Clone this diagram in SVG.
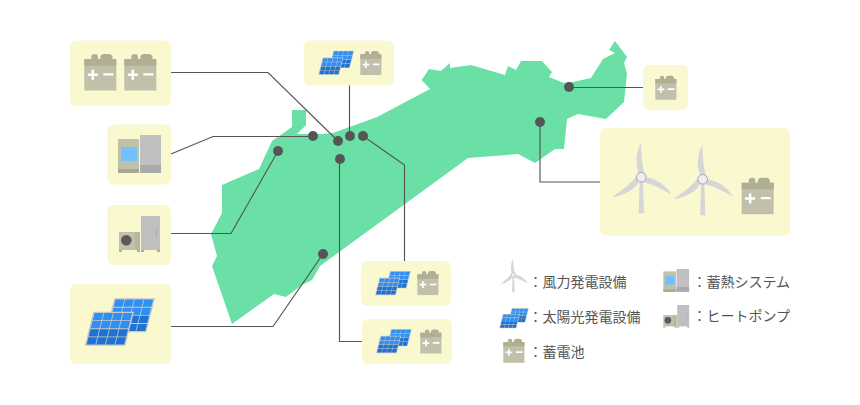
<svg xmlns="http://www.w3.org/2000/svg" xmlns:xlink="http://www.w3.org/1999/xlink" width="860" height="405" viewBox="0 0 860 405">
<style>
.box{fill:#f9f8cf}
.map{fill:#6ae0a6}
.conn{fill:none;stroke:#555;stroke-width:1.15}
.dot{fill:#555}
.leg{font-family:"Noto Sans CJK JP","Liberation Sans",sans-serif;font-size:14px;fill:#555}
.bright{fill:#2e90f5}
.dark{fill:#1f72d2}
.frame{fill:#c9c9c2}
.blade{fill:#d6d6d6}
</style>
<defs>
<g id="battery">
<rect x="7" y="-5" width="6.7" height="8" rx="3.3" fill="#b0ae93"/>
<rect x="16" y="-5" width="12.3" height="8" rx="4" fill="#b0ae93"/>
<rect x="0" y="0" width="32" height="31.5" fill="#c1c0ab"/>
<rect x="0" y="0" width="32" height="6.7" fill="#b0ae93"/>
<path d="M3.4 14.5h3.8v-3.8h2.5v3.8h3.8v2.5h-3.8v3.8h-2.5v-3.8h-3.8zM19 14.2h10v2.4h-10z" fill="#fff"/>
</g>
<g id="panel" transform="matrix(1 0 -0.253 1 8.6 0)">
<rect x="0" y="0" width="40.7" height="34" class="frame"/>
<rect x="1.6" y="1.3" width="8.8" height="7.2" class="bright"/><rect x="11.2" y="1.3" width="8.8" height="7.2" class="bright"/><rect x="20.8" y="1.3" width="8.8" height="7.2" class="bright"/><rect x="30.4" y="1.3" width="8.8" height="7.2" class="bright"/>
<rect x="1.6" y="9.4" width="8.8" height="7.2" class="bright"/><rect x="11.2" y="9.4" width="8.8" height="7.2" class="bright"/><rect x="20.8" y="9.4" width="8.8" height="7.2" class="bright"/><rect x="30.4" y="9.4" width="8.8" height="7.2" class="bright"/>
<rect x="1.6" y="17.5" width="8.8" height="7.2" class="dark"/><rect x="11.2" y="17.5" width="8.8" height="7.2" class="dark"/><rect x="20.8" y="17.5" width="8.8" height="7.2" class="dark"/><rect x="30.4" y="17.5" width="8.8" height="7.2" class="dark"/>
<rect x="1.6" y="25.6" width="8.8" height="7.2" class="dark"/><rect x="11.2" y="25.6" width="8.8" height="7.2" class="dark"/><rect x="20.8" y="25.6" width="8.8" height="7.2" class="dark"/><rect x="30.4" y="25.6" width="8.8" height="7.2" class="dark"/>
</g>
<g id="solar">
<use xlink:href="#panel" href="#panel" transform="translate(21,0)"/>
<use xlink:href="#panel" href="#panel" transform="translate(0,13.4)"/>
</g>
<path id="bladeShape" d="M-1.500 -2C-7 -12 -5 -26 -0.300 -34.600C0.200 -26 0 -13 4 -2Z"/>
<g id="wind">
<path d="M-1.500 0H1.500L2.600 36H-2.600Z" class="blade"/>
<use xlink:href="#bladeShape" href="#bladeShape" class="blade"/>
<use xlink:href="#bladeShape" href="#bladeShape" class="blade" transform="rotate(120)"/>
<use xlink:href="#bladeShape" href="#bladeShape" class="blade" transform="rotate(-124)"/>
<circle r="4.800" fill="#eee" stroke="#a8a8a8" stroke-width="1"/>
</g>
<g id="thermal">
<rect x="0" y="4" width="21" height="34" fill="#c1c0ab"/>
<rect x="0" y="34" width="21" height="4" fill="#a9a88b"/>
<rect x="3" y="12" width="16" height="14" fill="#70c1ff"/>
<rect x="22" y="0" width="21" height="38" fill="#c0c0c0"/>
<rect x="22" y="30" width="21" height="8" fill="#aaa"/>
</g>
<g id="heatpump">
<rect x="0" y="34" width="3" height="2" fill="#aaa"/><rect x="18" y="34" width="3" height="2" fill="#aaa"/>
<rect x="22" y="34" width="3" height="2" fill="#aaa"/><rect x="38" y="34" width="3" height="2" fill="#aaa"/>
<rect x="0" y="16" width="21" height="18" fill="#c1c0ab"/>
<rect x="16" y="16" width="5" height="18" fill="#b6b59e"/>
<circle cx="7.300" cy="24.300" r="5.300" fill="#5a5a5a"/>
<rect x="22" y="0" width="19" height="34" fill="#c0bfc0"/>
<rect x="37.200" y="12" width="0.800" height="9" fill="#a5a5a5"/>
</g>
</defs>
<path id="map" class="map" d="M222 185L259 169L272 141L292 127V110H306V125L297 134L322 134L333 133L377 117L430 89L421.700 80L429 69L441 71L450 63V68L471 65L505 75L508 66L516 70L521 61H542L552 72L549 77L564 83L573 82L591 78L603 59L615 53L609 50L615 41L627 57L624 63L627 74L624 102L606 119L578 114L567 119L564 149H555L535 163L518 154L468 158L320 266L312 280L302 285L286 297L274 294L232 324L212 266L217 256L211 234L222 213Z"/>
<g id="connectors">
<path class="conn" d="M171 72.500H268L338 141"/>
<path class="conn" d="M171 154L213 136.500H313"/>
<path class="conn" d="M171 233.500H231L278 151"/>
<path class="conn" d="M171 326.500H273L323 254"/>
<path class="conn" d="M349.500 85V136"/>
<path class="conn" d="M363 136L404.500 165V261"/>
<path class="conn" d="M339.500 159V341.500H362"/>
<path class="conn" d="M569 87.500H643"/>
<path class="conn" d="M540 122V182H600"/>
<circle class="dot" cx="313" cy="136" r="5"/>
<circle class="dot" cx="338" cy="141" r="5"/>
<circle class="dot" cx="350" cy="136" r="5"/>
<circle class="dot" cx="363" cy="136" r="5"/>
<circle class="dot" cx="278" cy="151" r="5"/>
<circle class="dot" cx="340" cy="159" r="5"/>
<circle class="dot" cx="323" cy="254" r="5"/>
<circle class="dot" cx="569" cy="87" r="5"/>
<circle class="dot" cx="540" cy="122" r="5"/>
</g>
<g id="node-batteries">
<rect class="box" x="70" y="40.500" width="101" height="65.500" rx="6"/>
<use xlink:href="#battery" href="#battery" x="84.300" y="59"/>
<use xlink:href="#battery" href="#battery" x="124.300" y="59"/>
</g>
<g id="node-thermal">
<rect class="box" x="107.500" y="124.500" width="63.500" height="60" rx="6"/>
<use xlink:href="#thermal" href="#thermal" x="118" y="135"/>
</g>
<g id="node-heatpump">
<rect class="box" x="107.500" y="205" width="63.500" height="60" rx="6"/>
<use xlink:href="#heatpump" href="#heatpump" x="119" y="216"/>
</g>
<g id="node-solar-large">
<rect class="box" x="70" y="284" width="101" height="80" rx="6"/>
<use xlink:href="#solar" href="#solar" transform="translate(84.700,298.300)"/>
</g>
<g id="node-solar-battery-top">
<rect class="box" x="304" y="40.500" width="90" height="45" rx="6"/>
<use xlink:href="#solar" href="#solar" transform="translate(318.300,50.700) scale(.51)"/>
<use xlink:href="#battery" href="#battery" transform="translate(360.300,54.200) scale(.66)"/>
</g>
<g id="node-battery-east">
<rect class="box" x="643" y="65" width="45" height="45" rx="6"/>
<use xlink:href="#battery" href="#battery" transform="translate(655.300,79) scale(.66)"/>
</g>
<g id="node-wind">
<rect class="box" x="600" y="128" width="190" height="108" rx="7"/>
<use xlink:href="#wind" href="#wind" transform="translate(641.300,177.300)"/>
<use xlink:href="#wind" href="#wind" transform="translate(702.700,179.300)"/>
<use xlink:href="#battery" href="#battery" x="741.700" y="182.700"/>
</g>
<g id="node-solar-battery-mid">
<rect class="box" x="361" y="261" width="90" height="45" rx="6"/>
<use xlink:href="#solar" href="#solar" transform="translate(375,271) scale(.51)"/>
<use xlink:href="#battery" href="#battery" transform="translate(417.300,274.300) scale(.66)"/>
</g>
<g id="node-solar-battery-low">
<rect class="box" x="362" y="319" width="90" height="45" rx="6"/>
<use xlink:href="#solar" href="#solar" transform="translate(376,329) scale(.51)"/>
<use xlink:href="#battery" href="#battery" transform="translate(420.300,332.700) scale(.66)"/>
</g>
<g id="legend">
<use xlink:href="#wind" href="#wind" transform="translate(513.300,275) scale(.48)"/>
<text class="leg" x="528.500" y="287">：風力発電設備</text>
<use xlink:href="#solar" href="#solar" transform="translate(499.300,308.300) scale(.42)"/>
<text class="leg" x="528.500" y="322">：太陽光発電設備</text>
<use xlink:href="#battery" href="#battery" transform="translate(503.300,342) scale(.66)"/>
<text class="leg" x="528.500" y="357">：蓄電池</text>
<use xlink:href="#thermal" href="#thermal" transform="translate(663.300,269) scale(.6)"/>
<text class="leg" x="692.500" y="287">：蓄熱システム</text>
<use xlink:href="#heatpump" href="#heatpump" transform="translate(663.300,305) scale(.63)"/>
<text class="leg" x="692.500" y="321">：ヒートポンプ</text>
</g>
</svg>
